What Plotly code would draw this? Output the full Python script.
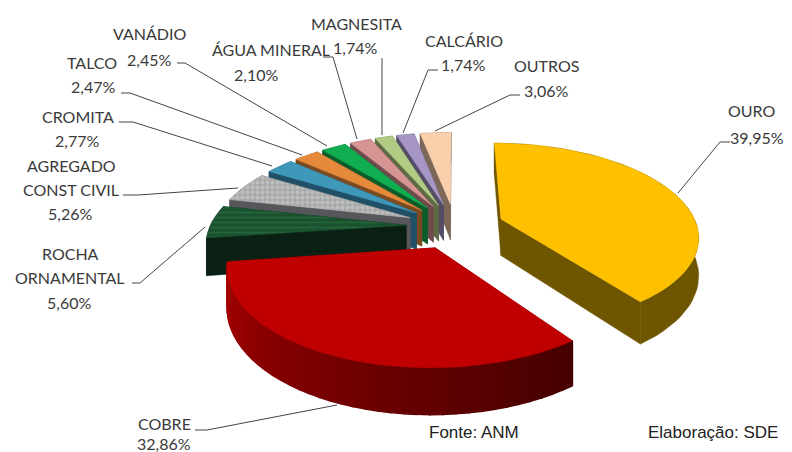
import math
import plotly.graph_objects as go

# --- data -----------------------------------------------------------------
NAMES = ["OURO", "COBRE", "ROCHA ORNAMENTAL", "AGREGADO CONST CIVIL", "CROMITA",
         "TALCO", "VANÁDIO", "ÁGUA MINERAL", "MAGNESITA", "CALCÁRIO", "OUTROS"]
VALUES = [39.95, 32.86, 5.60, 5.26, 2.77, 2.47, 2.45, 2.10, 1.74, 1.74, 3.06]

# --- styles ---------------------------------------------------------------
TOP = ["#FFC000", "#C00000", "#1E5C34", "#B4B6B6", "#3F97B9", "#E5893B",
       "#10AE50", "#D69593", "#B2CB84", "#A596C6", "#F9CFAC"]
WALL = ["#6E5500", "#7A0000", "#0B2014", "#56565B", "#1F5068", "#7A4A20",
        "#0A5C2B", "#6E4C4C", "#5D6A44", "#554C66", "#7D6858"]
PATTERN = {2: dict(shape="-", fgcolor="#2F7A48", bgcolor="#1A5230", size=5, solidity=0.3),
           3: dict(shape=".", fgcolor="#D2D4D4", bgcolor="#A8AAAA", size=5, solidity=0.45)}

# --- label layout (x centre, y centre per text line) ----------------------
LABEL_LINES = [
    (["OURO"], [(751, 110), (757, 137)]),
    (["COBRE"], [(164, 423), (164, 443)]),
    (["ROCHA", "ORNAMENTAL"], [(70, 253), (70, 277), (69, 302)]),
    (["AGREGADO", "CONST CIVIL"], [(71, 165), (71, 189), (70, 213)]),
    (["CROMITA"], [(78, 116), (77, 140)]),
    (["TALCO"], [(92, 62), (93, 86)]),
    (["VANÁDIO"], [(149, 33), (149, 59)]),
    (["ÁGUA MINERAL"], [(271, 49), (256, 74)]),
    (["MAGNESITA"], [(356, 23), (355, 47)]),
    (["CALCÁRIO"], [(464, 40), (463, 64)]),
    (["OUTROS"], [(546, 65), (546, 90)]),
]
LEADERS = [
    [(730, 142), (720, 142), (678, 193)],
    [(195, 430), (207, 430), (337, 405)],
    [(132, 283), (140, 283), (205, 227)],
    [(123, 195), (138, 195), (238, 188)],
    [(119, 122), (133, 122), (272, 166)],
    [(121, 93), (130, 93), (302, 155)],
    [(177, 63), (185, 63), (327, 146)],
    [(323, 57), (333, 57), (357, 139)],
    [(382, 58), (382, 135)],
    [(438, 70), (428, 70), (403, 133)],
    [(520, 95), (510, 95), (435, 131)],
]

# --- 3D pie projection ----------------------------------------------------
CX, CY, A, B, K, DEPTH, EXPLODE = 455, 226, 196, 91, 0.171, 37, 0.25
total = sum(VALUES)


def project(px, py, drop=0.0):
    s = 1 / (1 + K * py)
    return CX + A * px * s, CY - B * py * s + drop * DEPTH * s


def hexmix(c1, c2, t):
    a = [int(c1[i:i + 2], 16) for i in (1, 3, 5)]
    b = [int(c2[i:i + 2], 16) for i in (1, 3, 5)]
    return "#%02X%02X%02X" % tuple(round(p + (q - p) * t) for p, q in zip(a, b))


fig = go.Figure()


def poly(points, color, pattern=None, lw=0.5):
    xs = [p[0] for p in points] + [points[0][0]]
    ys = [p[1] for p in points] + [points[0][1]]
    kw = dict(fillpattern=pattern) if pattern else {}
    fig.add_trace(go.Scatter(x=xs, y=ys, mode="lines", fill="toself", fillcolor=color,
                             line=dict(color=color, width=lw), hoverinfo="skip", **kw))


slices = []
start = 0.0
for i, v in enumerate(VALUES):
    span = v / total * 2 * math.pi
    slices.append((i, start, start + span))
    start += span

for i, t0, t1 in sorted(slices, key=lambda s: -math.cos((s[1] + s[2]) / 2)):
    mid = (t0 + t1) / 2
    ox, oy = EXPLODE * math.sin(mid), EXPLODE * math.cos(mid)
    n = max(4, int((t1 - t0) / math.radians(3)))
    rim = []
    for j in range(n + 1):
        th = t0 + (t1 - t0) * j / n
        rim.append((ox + math.sin(th), oy + math.cos(th)))
    apex = (ox, oy)
    # radial walls
    for end in (rim[0], rim[-1]):
        poly([project(*apex), project(*end), project(*end, 1), project(*apex, 1)], WALL[i])
    # outer wall
    if i == 1:
        for j in range(n):
            f = j / (n - 1)
            col = hexmix("#470000", "#A80000", f ** 1.1)
            poly([project(*rim[j]), project(*rim[j + 1]),
                  project(*rim[j + 1], 1), project(*rim[j], 1)], col, lw=1.5)
    else:
        poly([project(*p) for p in rim] + [project(*p, 1) for p in reversed(rim)], WALL[i])
    # top surface
    poly([project(*apex)] + [project(*p) for p in rim], TOP[i], PATTERN.get(i))

# leader lines
for pts in LEADERS:
    fig.add_trace(go.Scatter(x=[p[0] for p in pts], y=[p[1] for p in pts], mode="lines",
                             line=dict(color="#444444", width=1), hoverinfo="skip"))

# labels
annotations = []
for (lines, pos), v in zip(LABEL_LINES, VALUES):
    texts = lines + [f"{v:.2f}%".replace(".", ",")]
    for txt, (x, y) in zip(texts, pos):
        annotations.append(dict(x=x, y=y, xref="x", yref="y", text=txt, showarrow=False,
                                xanchor="center", yanchor="middle",
                                font=dict(family="Lato", size=16, color="#3A3A3A")))
for txt, x, y in [("Fonte: ANM", 474, 432), ("Elaboração: SDE", 713, 432)]:
    annotations.append(dict(x=x, y=y, xref="x", yref="y", text=txt, showarrow=False,
                            xanchor="center", yanchor="middle",
                            font=dict(family="Liberation Sans", size=17, color="#222222")))

fig.update_layout(
    width=792, height=452, margin=dict(l=0, r=0, t=0, b=0),
    paper_bgcolor="white", plot_bgcolor="white", showlegend=False,
    xaxis=dict(range=[0, 792], visible=False, fixedrange=True),
    yaxis=dict(range=[452, 0], visible=False, fixedrange=True),
    annotations=annotations,
)
fig.write_html("out.html", config=dict(displayModeBar=False),
               post_script="document.body.style.margin='0';")
